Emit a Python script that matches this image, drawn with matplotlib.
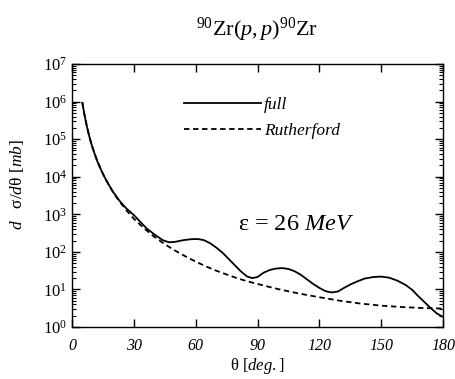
import numpy as np
import matplotlib
matplotlib.use("Agg")
import matplotlib.pyplot as plt

# values
theta_full = [5, 6, 7, 8, 9, 10, 12, 14, 16, 18, 20, 23, 26, 30, 33, 36, 40, 44, 47,
              50, 54, 58, 61, 64, 67, 70, 73, 76, 79, 82, 85, 87.5, 90, 93, 96, 99,
              102, 105, 108, 111, 114, 117, 120, 123, 126, 129, 132, 135, 138, 142,
              146, 150, 154, 158, 162, 165, 168, 171, 174, 177, 180]
sigma_full = [9.3e5, 4.5e5, 2.45e5, 1.42e5, 8.8e4, 5.8e4, 2.8e4, 1.55e4, 9.3e3, 5.9e3,
              3.9e3, 2.3e3, 1.5e3, 950, 640, 430, 290, 205, 180,
              185, 205, 218, 220, 205, 170, 130, 95, 65, 44, 30, 22, 20, 21.5, 28, 33, 36,
              37, 35, 30.5, 24.5, 18.5, 14, 11, 9, 8.3, 8.8, 11, 13.5, 16, 19.5,
              21.3, 22, 20.5, 17, 13, 9.8, 6.6, 4.6, 3.2, 2.3, 1.85]

theta_ruth = [5, 6, 7, 8, 9, 10, 12, 14, 16, 18, 20, 23, 26, 30, 35, 40, 45, 50, 55,
              60, 65, 70, 75, 80, 85, 90, 100, 110, 120, 130, 140, 150, 160, 170, 180]
sigma_ruth = [9.5e5, 4.6e5, 2.5e5, 1.45e5, 9.0e4, 5.9e4, 2.85e4, 1.55e4, 9.2e3, 5.8e3,
              3.8e3, 2.2e3, 1.35e3, 760, 420, 250, 160, 108, 76,
              55, 41, 31.5, 25, 20, 16.5, 14, 10.2, 7.8, 6.2, 5.0, 4.2, 3.7, 3.4, 3.2, 3.1]

x_ticks = [0, 30, 60, 90, 120, 150, 180]

plt.rcParams['font.family'] = ['Liberation Serif', 'DejaVu Serif']
plt.rcParams['mathtext.fontset'] = 'custom'
plt.rcParams['mathtext.rm'] = 'Liberation Serif'
plt.rcParams['mathtext.it'] = 'Liberation Serif:italic'

fig = plt.figure(figsize=(4.56, 3.79), dpi=100)
ax = fig.add_axes([0.158, 0.1372, 0.8135, 0.6938])

ax.plot(theta_full, sigma_full, color='black', lw=1.3, label='full')
ax.plot(theta_ruth, sigma_ruth, color='black', lw=1.3, ls=(0, (3, 2)), label='Rutherford')

ax.set_yscale('log')
ax.set_xlim(0, 180)
ax.set_ylim(1, 1e7)
ax.set_xticks(x_ticks)
ax.set_xticklabels([str(t) for t in x_ticks], fontstyle='italic', fontsize=11.5)
ax.set_yticks([10.0 ** k for k in range(8)])
ax.set_yticklabels(['$\\mathit{10^{%d}}$' % k for k in range(8)], fontsize=12)
ax.yaxis.set_minor_locator(matplotlib.ticker.LogLocator(base=10, subs=np.arange(2, 10), numticks=20))
ax.yaxis.set_minor_formatter(matplotlib.ticker.NullFormatter())
ax.tick_params(which='both', direction='in', top=True, right=True)
ax.tick_params(which='major', length=6, width=1)
ax.tick_params(which='minor', length=3, width=0.8)
ax.tick_params(axis='x', pad=8)
for s in ax.spines.values():
    s.set_linewidth(1.0)

ax.set_xlabel('$\\mathrm{\\theta}$ $\\mathit{[deg.]}$', fontsize=12, labelpad=1)
ax.set_ylabel('$\\mathit{d}$   $\\mathrm{\\sigma}\\mathit{/d}\\mathrm{\\theta}$ $\\mathit{[mb]}$',
              fontsize=12.5)
ax.yaxis.set_label_coords(-0.125, 0.54)
ax.set_title('$^{\\mathit{90}}\\mathrm{Zr}(p,p)^{\\mathit{90}}\\mathrm{Zr}$', fontsize=16, pad=20)

ax.legend(loc='upper left', bbox_to_anchor=(0.26, 0.935), frameon=False,
          handlelength=4.4, handletextpad=0.2, labelspacing=0.6,
          prop={'style': 'italic', 'size': 12.5})

ax.text(0.604, 0.388, '$\\mathrm{\\varepsilon}$ = $\\mathit{26\\ MeV}$', transform=ax.transAxes,
        fontsize=17.5, ha='center', va='center')

fig.savefig('out.png', dpi=100)
